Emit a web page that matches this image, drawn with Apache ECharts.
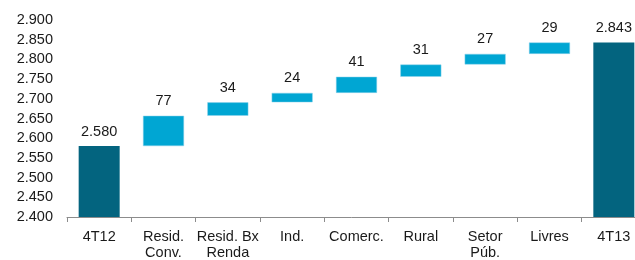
<!DOCTYPE html>
<html>
<head>
<meta charset="utf-8">
<script src="https://cdn.jsdelivr.net/npm/echarts@6/dist/echarts.min.js"></script>
<style>
  html, body { margin: 0; padding: 0; background: #fff; }
  #chart { width: 635px; height: 260px; }
</style>
</head>
<body>
<div id="chart"></div>
<script>
const categories = ['4T12', 'Resid.\nConv.', 'Resid. Bx\nRenda', 'Ind.', 'Comerc.', 'Rural', 'Setor\nPúb.', 'Livres', '4T13'];
const startValue = 2580;
const increments = [77, 34, 24, 41, 31, 27, 29];
const endValue = 2843;

// thousands separator as dot, e.g. 2580 -> "2.580"
const fmt = (v) => String(Math.round(v)).replace(/\B(?=(\d{3})+(?!\d))/g, '.');

let base = [0];
let incData = ['-'];
let totalData = [startValue];
let running = startValue;
increments.forEach((inc) => {
    base.push(running);
    incData.push(inc);
    totalData.push('-');
    running += inc;
});
base.push(0);
incData.push('-');
totalData.push(endValue);

const chart = echarts.init(document.getElementById('chart'));
const labelStyle = {
    show: true,
    position: 'top',
    distance: 7,
    color: '#1a1a1a',
    fontFamily: 'Liberation Sans',
    fontSize: 14.5
};

chart.setOption({
    animation: false,
    grid: { left: 67, top: 20, width: 579, height: 197, outerBoundsMode: 'none', containLabel: false },
    xAxis: {
        type: 'category',
        data: categories,
        axisLine: { lineStyle: { color: '#8c8c8c', width: 1 } },
        axisTick: { show: true, length: 5, lineStyle: { color: '#8c8c8c' } },
        axisLabel: {
            color: '#1a1a1a',
            fontFamily: 'Liberation Sans',
            fontSize: 14.5,
            lineHeight: 16,
            margin: 12,
            interval: 0
        }
    },
    yAxis: {
        type: 'value',
        min: 2400,
        max: 2900,
        interval: 50,
        axisLine: { show: false },
        axisTick: { show: false },
        splitLine: { show: false },
        axisLabel: {
            color: '#1a1a1a',
            fontFamily: 'Liberation Sans',
            fontSize: 14.5,
            margin: 14,
            formatter: (v) => fmt(v)
        }
    },
    series: [
        {
            name: 'base',
            type: 'bar',
            stack: 'w',
            barWidth: 41,
            itemStyle: { color: 'transparent' },
            data: base
        },
        {
            name: 'var',
            type: 'bar',
            stack: 'w',
            barWidth: 41,
            itemStyle: { color: '#00a6d3', borderColor: '#8fd3ea', borderWidth: 0.5 },
            label: labelStyle,
            data: incData
        },
        {
            name: 'total',
            type: 'bar',
            stack: 'w',
            barWidth: 41,
            itemStyle: { color: '#03647f' },
            label: Object.assign({}, labelStyle, { formatter: (p) => fmt(p.value) }),
            data: totalData
        }
    ]
});
</script>
</body>
</html>
